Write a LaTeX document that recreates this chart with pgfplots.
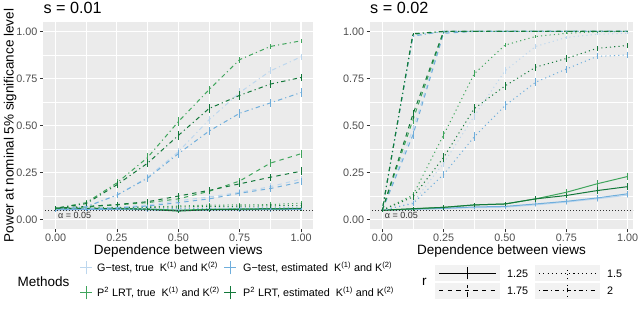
\documentclass[border=0pt]{standalone}
\usepackage{pgfplots}
\pgfplotsset{compat=1.18}
\usepackage{pgfplotstable}
\usepackage{fontspec}
\setmainfont{Liberation Sans}

\definecolor{panel}{HTML}{EBEBEB}
\definecolor{keybg}{HTML}{F2F2F2}
\definecolor{tickc}{HTML}{333333}
\definecolor{labc}{HTML}{4D4D4D}
\definecolor{cGT}{HTML}{BDD7EE}
\definecolor{cGE}{HTML}{6FAEDC}
\definecolor{cPT}{HTML}{3FA55C}
\definecolor{cPE}{HTML}{13783A}

\pgfplotstableread{
x gtA geA ptA peA gtB geB ptB peB gtC geC ptC peC gtD geD ptD peD
0     0.052 0.053 0.060 0.060 0.052 0.052 0.060 0.060 0.052 0.052 0.060 0.060 0.052 0.052 0.060 0.060
0.125 0.055 0.054 0.060 0.060 0.055 0.054 0.062 0.061 0.058 0.056 0.068 0.070 0.070 0.068 0.090 0.085
0.25  0.055 0.055 0.060 0.058 0.057 0.056 0.065 0.063 0.065 0.062 0.078 0.080 0.130 0.130 0.195 0.185
0.375 0.053 0.052 0.057 0.055 0.058 0.057 0.068 0.065 0.078 0.072 0.090 0.095 0.225 0.220 0.330 0.300
0.5   0.050 0.048 0.050 0.045 0.060 0.058 0.072 0.067 0.100 0.090 0.110 0.125 0.360 0.350 0.520 0.447
0.625 0.052 0.051 0.055 0.053 0.062 0.060 0.077 0.070 0.120 0.110 0.150 0.155 0.530 0.470 0.690 0.590
0.75  0.053 0.052 0.057 0.055 0.063 0.061 0.078 0.071 0.145 0.140 0.205 0.190 0.675 0.565 0.850 0.660
0.875 0.054 0.053 0.058 0.057 0.064 0.062 0.080 0.073 0.175 0.165 0.300 0.225 0.790 0.620 0.920 0.720
1     0.055 0.054 0.060 0.058 0.066 0.063 0.087 0.075 0.215 0.200 0.350 0.257 0.865 0.675 0.950 0.755
}\tabA

\pgfplotstableread{
x gtA geA ptA peA gtB geB ptB peB gtC geC ptC peC gtD geD ptD peD
0     0.050 0.050 0.048 0.050 0.050 0.050 0.050 0.050 0.050 0.050 0.050 0.050 0.050 0.050 0.050 0.050
0.125 0.054 0.055 0.057 0.058 0.090 0.085 0.130 0.120 0.480 0.450 0.530 0.560 0.980 0.975 0.985 0.988
0.25  0.058 0.060 0.065 0.065 0.300 0.240 0.450 0.330 0.995 0.990 0.998 1.000 1.000 1.000 1.000 1.000
0.375 0.063 0.067 0.078 0.078 0.550 0.440 0.775 0.590 1.000 1.000 1.000 1.000 1.000 1.000 1.000 1.000
0.5   0.066 0.070 0.083 0.083 0.790 0.605 0.927 0.710 1.000 1.000 1.000 1.000 1.000 1.000 1.000 1.000
0.625 0.078 0.083 0.110 0.110 0.920 0.730 0.973 0.810 1.000 1.000 1.000 1.000 1.000 1.000 1.000 1.000
0.75  0.093 0.097 0.145 0.128 0.968 0.800 0.990 0.856 1.000 1.000 1.000 1.000 1.000 1.000 1.000 1.000
0.875 0.110 0.115 0.190 0.154 0.985 0.867 0.998 0.910 1.000 1.000 1.000 1.000 1.000 1.000 1.000 1.000
1     0.130 0.137 0.229 0.175 0.990 0.875 1.000 0.925 1.000 1.000 1.000 1.000 1.000 1.000 1.000 1.000
}\tabB

\tikzset{
  rA/.style={solid},
  rB/.style={dash pattern=on 1.1bp off 3.2bp},
  rC/.style={dash pattern=on 4.3bp off 4.3bp},
  rD/.style={dash pattern=on 1.1bp off 3.2bp on 4.3bp off 3.2bp},
}
\pgfplotsset{
  panelstyle/.style={
    scale only axis, height=207bp,
    ymin=-0.05, ymax=1.05,
    axis background/.style={fill=panel},
    axis line style={draw=none},
    xtick={0,0.25,0.5,0.75,1}, xticklabels={0.00,0.25,0.50,0.75,1.00},
    ytick={0,0.25,0.5,0.75,1}, yticklabels={0.00,0.25,0.50,0.75,1.00},
    minor xtick={0.125,0.375,0.625,0.875}, minor ytick={0.125,0.375,0.625,0.875},
    grid=both,
    major grid style={white, line width=1.07bp},
    minor grid style={white, line width=0.53bp},
    tick align=outside, major tick length=3.4bp, minor tick length=0pt,
    tick style={tickc, line width=0.53bp},
    xtick pos=left, ytick pos=left,
    tick label style={font=\fontsize{10.8bp}{12bp}\selectfont, text=labc},
    xticklabel style={inner sep=1.5bp},
    yticklabel style={inner sep=2.2bp},
  }
}

% #1 colour, #2 line style, #3 column, #4 table
\newcommand{\ser}[4]{\addplot[color=#1, draw=#1, #2, line width=1bp, no marks,
  error bars/.cd, y dir=both, y explicit, error mark=none,
  error bar style={draw=#1, color=#1, solid, line width=0.6bp}]
  table[x=x, y=#3, y error expr={1.96*sqrt(abs(\thisrow{#3}*(1-\thisrow{#3}))/1800)}] {#4};}

\newcommand{\allseries}[1]{%
  \ser{cGT}{rA}{gtA}{#1}\ser{cGE}{rA}{geA}{#1}\ser{cPT}{rA}{ptA}{#1}\ser{cPE}{rA}{peA}{#1}%
  \ser{cGT}{rB}{gtB}{#1}\ser{cGE}{rB}{geB}{#1}\ser{cPT}{rB}{ptB}{#1}\ser{cPE}{rB}{peB}{#1}%
  \ser{cGT}{rC}{gtC}{#1}\ser{cGE}{rC}{geC}{#1}\ser{cPT}{rC}{ptC}{#1}\ser{cPE}{rC}{peC}{#1}%
  \ser{cGT}{rD}{gtD}{#1}\ser{cGE}{rD}{geD}{#1}\ser{cPT}{rD}{ptD}{#1}\ser{cPE}{rD}{peD}{#1}%
  \addplot[tickc, line width=1bp, dash pattern=on 1bp off 2bp] coordinates {(-0.2,0.05) (1.2,0.05)};
  \node[anchor=west, inner sep=0pt, font=\fontsize{9bp}{10bp}\selectfont, text=tickc] at (axis cs:0.01,0.024) {α = 0.05};
}

\begin{document}
\begin{tikzpicture}
\path[use as bounding box] (0,0) rectangle (640bp,313bp);

\begin{axis}[panelstyle, width=270bp, xmin=-0.05, xmax=1.05, at={(43.3bp,84bp)}, anchor=south west]
\allseries{\tabA}
\end{axis}

\begin{axis}[panelstyle, width=263bp, xmin=-0.05, xmax=1.022, at={(370bp,84bp)}, anchor=south west]
\allseries{\tabB}
\end{axis}

% titles and labels
\node[anchor=base west, inner sep=0pt, font=\fontsize{16.2bp}{18bp}\selectfont] at (43.3bp,299.5bp) {s = 0.01};
\node[anchor=base west, inner sep=0pt, font=\fontsize{16.2bp}{18bp}\selectfont] at (370bp,299.5bp) {s = 0.02};
\node[anchor=base, inner sep=0pt, font=\fontsize{13.5bp}{15bp}\selectfont] at (178.3bp,58bp) {Dependence between views};
\node[anchor=base, inner sep=0pt, font=\fontsize{13.5bp}{15bp}\selectfont] at (501.5bp,58bp) {Dependence between views};
\node[rotate=90, anchor=base, inner sep=0pt, font=\fontsize{13.5bp}{15bp}\selectfont] at (13.5bp,187.5bp) {Power at nominal 5\% significance level};

% Methods legend
\node[anchor=west, inner sep=0pt, font=\fontsize{13.5bp}{15bp}\selectfont] at (17.5bp,31bp) {Methods};
\foreach \cx/\cy/\cc in {86/45/cGT, 86/20/cPT, 230/45/cGE, 230/20/cPE}{
  \draw[\cc, line width=1bp] (\cx bp-6bp,\cy bp) -- (\cx bp+6bp,\cy bp);
  \draw[\cc, line width=1bp] (\cx bp,\cy bp-6.5bp) -- (\cx bp,\cy bp+6.5bp);
}
\begin{scope}[every node/.style={anchor=base west, inner sep=0pt, font=\fontsize{10.8bp}{12bp}\selectfont}]
\node at (97bp,41.2bp) {G−test, true\ \ K\textsuperscript{(1)} and K\textsuperscript{(2)}};
\node at (97bp,16.2bp) {P\textsuperscript{2} LRT, true\ \ K\textsuperscript{(1)} and K\textsuperscript{(2)}};
\node at (243bp,41.2bp) {G−test, estimated\ \ K\textsuperscript{(1)} and K\textsuperscript{(2)}};
\node at (243bp,16.2bp) {P\textsuperscript{2} LRT, estimated\ \ K\textsuperscript{(1)} and K\textsuperscript{(2)}};
\node at (507bp,35.6bp) {1.25};
\node at (607bp,35.6bp) {1.5};
\node at (507bp,18.3bp) {1.75};
\node at (607bp,18.3bp) {2};
\end{scope}

% r legend
\node[anchor=west, inner sep=0pt, font=\fontsize{13.5bp}{15bp}\selectfont] at (422bp,31bp) {r};
\foreach \kx/\ky/\st in {435/39.5/rA, 535/39.5/rB, 435/22.2/rC, 535/22.2/rD}{
  \fill[keybg] (\kx bp,\ky bp-8bp) rectangle (\kx bp+65bp,\ky bp+8bp);
  \draw[black, line width=1bp, \st] (\kx bp+4bp,\ky bp) -- (\kx bp+61bp,\ky bp);
  \draw[black, line width=1bp, \st] (\kx bp+32.5bp,\ky bp-6bp) -- (\kx bp+32.5bp,\ky bp+6bp);
}
\end{tikzpicture}
\end{document}
